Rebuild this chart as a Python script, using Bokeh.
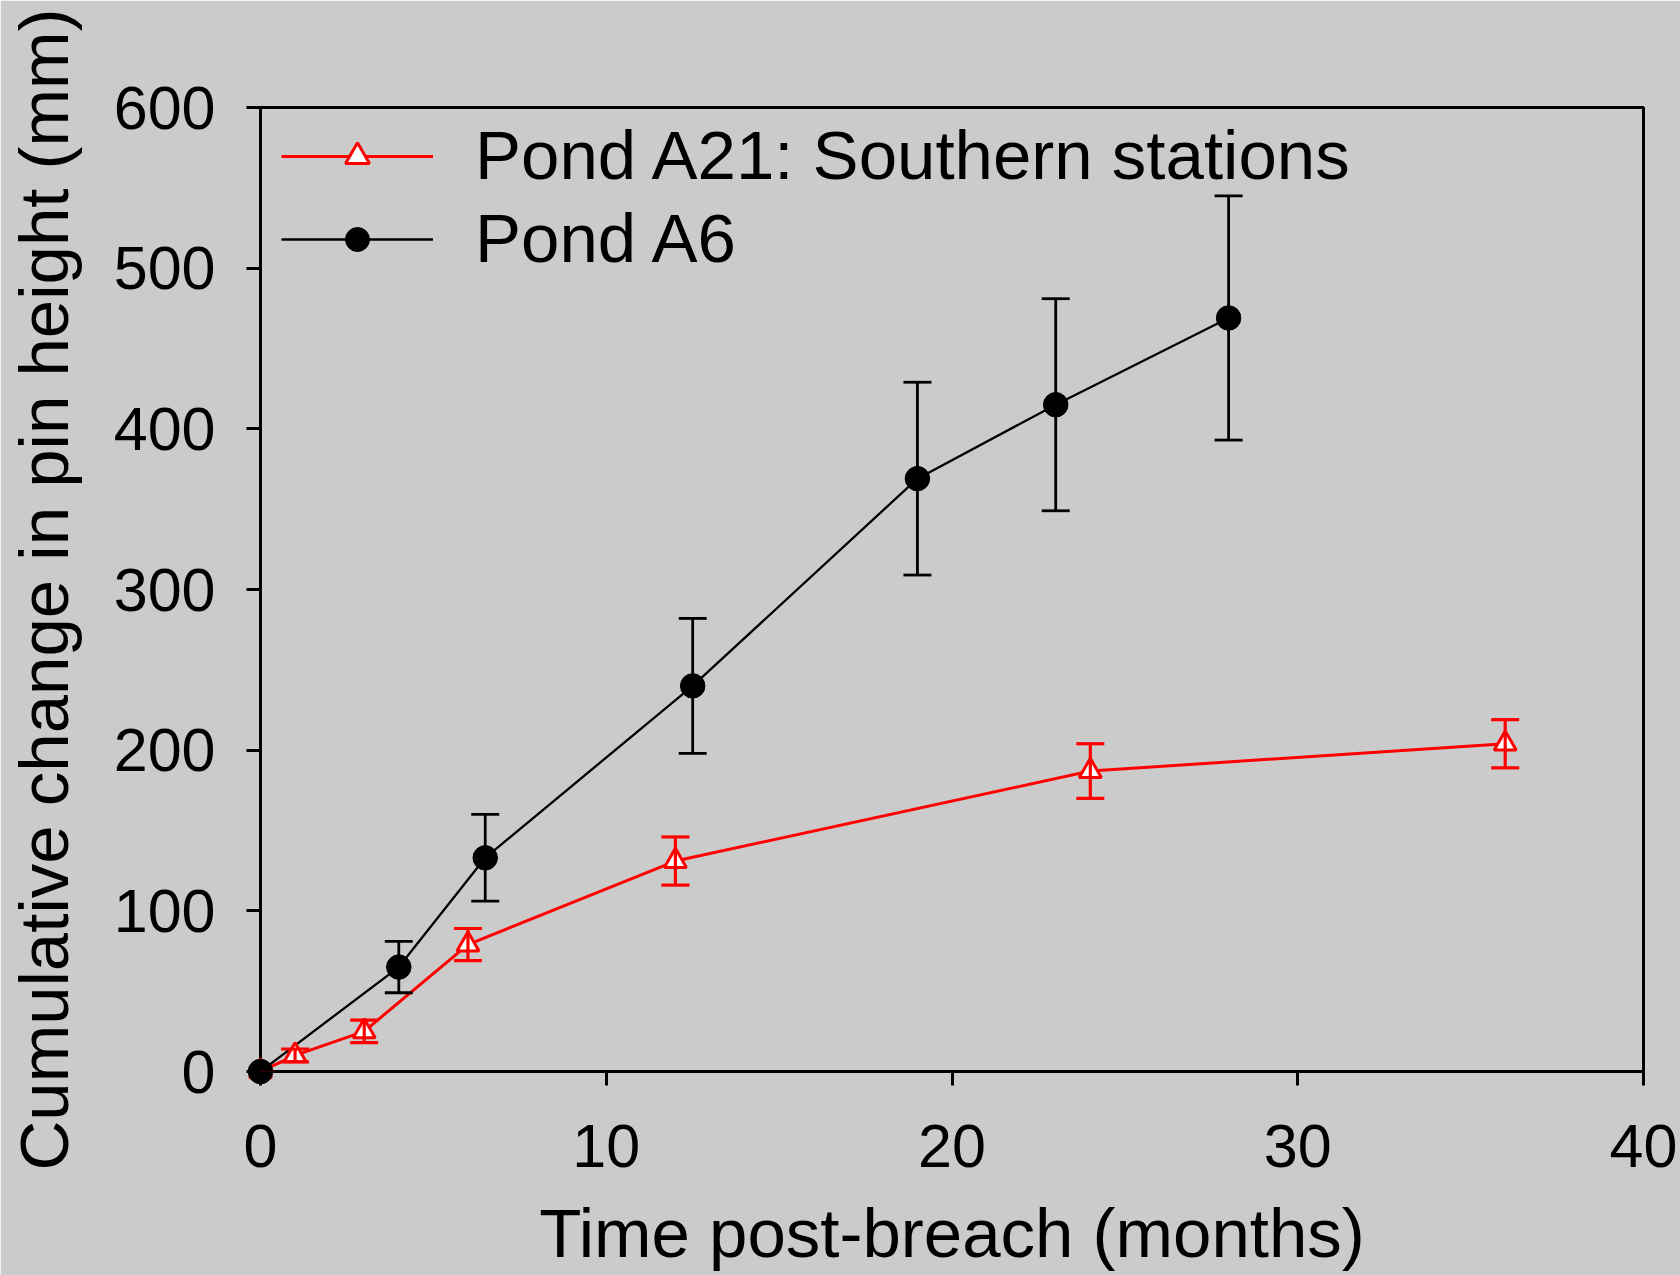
from bokeh.plotting import figure
from bokeh.models import Range1d, ColumnDataSource, Whisker, TeeHead, Legend, LegendItem, FixedTicker
from bokeh.embed import file_html
from bokeh.resources import INLINE

# Pond A21: Southern stations
a21_months = [0, 1, 3, 6, 12, 24, 36]
a21_mean = [0, 10, 25, 79, 131, 187, 204]
a21_err = [0, 4, 7, 10, 15, 17, 15]

# Pond A6
a6_months = [0, 4, 6.5, 12.5, 19, 23, 28]
a6_mean = [0, 65, 133, 240, 369, 415, 469]
a6_err = [0, 16, 27, 42, 60, 66, 76]

x_ticks = [0, 10, 20, 30, 40]
y_ticks = [0, 100, 200, 300, 400, 500, 600]

BG = "#cbcbcb"
FONT = "Liberation Sans"

p = figure(width=1680, height=1275, output_backend="svg", toolbar_location=None,
           x_range=Range1d(0, 40), y_range=Range1d(0, 600),
           min_border_left=260, min_border_right=37, min_border_top=107, min_border_bottom=204)
p.background_fill_color = BG
p.border_fill_color = BG
p.grid.visible = False
p.outline_line_color = "black"
p.outline_line_width = 3

for ax in (p.xaxis[0], p.yaxis[0]):
    ax.axis_line_width = 3
    ax.axis_line_color = "black"
    ax.major_tick_line_width = 3
    ax.major_tick_out = 14
    ax.major_tick_in = 0
    ax.minor_tick_out = 0
    ax.minor_tick_in = 0
    ax.major_label_text_font = FONT
    ax.major_label_text_font_size = "61px"
    ax.major_label_text_color = "black"
    ax.axis_label_text_font = FONT
    ax.axis_label_text_font_size = "69px"
    ax.axis_label_text_font_style = "normal"
    ax.axis_label_text_color = "black"

p.xaxis.ticker = FixedTicker(ticks=x_ticks)
p.yaxis.ticker = FixedTicker(ticks=y_ticks)
p.xaxis.axis_label = "Time post-breach (months)"
p.yaxis.axis_label = "Cumulative change in pin height (mm)"
p.xaxis.major_label_standoff = 39
p.xaxis.axis_label_standoff = 25
p.yaxis.major_label_standoff = 31
p.yaxis.axis_label_standoff = 28

def series(xs, ys, es, color, line_w, bar_w, marker, size, fill, lw_marker):
    lo = [y - e for y, e in zip(ys, es)]
    hi = [y + e for y, e in zip(ys, es)]
    src = ColumnDataSource(dict(x=xs, y=ys, lo=lo, hi=hi))
    ln = p.line("x", "y", source=src, line_color=color, line_width=line_w)
    w = Whisker(source=src, base="x", lower="lo", upper="hi", line_color=color, line_width=bar_w,
                upper_head=TeeHead(size=28, line_color=color, line_width=bar_w),
                lower_head=TeeHead(size=28, line_color=color, line_width=bar_w))
    w.level = "overlay"
    p.add_layout(w)
    mk = p.scatter("x", "y", source=src, marker=marker, size=size, fill_color=fill,
                   line_color=color, line_width=lw_marker)
    mk.level = "overlay"
    return ln, mk

r_ln, r_mk = series(a21_months, a21_mean, a21_err, "#ff0000", 3, 3.2, "triangle", 22, "white", 3)
b_ln, b_mk = series(a6_months, a6_mean, a6_err, "black", 2.3, 2.8, "circle", 24.5, "black", 1)

legend = Legend(items=[
    LegendItem(label="Pond A21: Southern stations", renderers=[r_ln, r_mk]),
    LegendItem(label="Pond A6", renderers=[b_ln, b_mk]),
], location=(13, 785))
legend.background_fill_alpha = 0
legend.border_line_alpha = 0
legend.label_text_font = FONT
legend.label_text_font_size = "69px"
legend.label_text_color = "black"
legend.glyph_width = 152
legend.glyph_height = 60
legend.label_standoff = 42
legend.spacing = 4
legend.margin = 0
legend.padding = 8
p.add_layout(legend)

html = file_html(p, INLINE)
html = html.replace("<body>", '<body style="background:#cbcbcb">', 1)
open("out.html", "w").write(html)
